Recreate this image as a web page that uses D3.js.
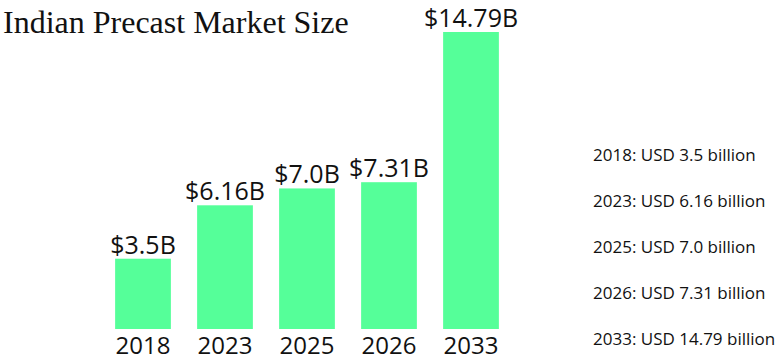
<!DOCTYPE html>
<html>
<head>
<meta charset="utf-8">
<script src="https://cdn.jsdelivr.net/npm/d3@7"></script>
<style>
  body { margin: 0; background: #fff; }
  text { fill: #111; }
</style>
</head>
<body>
<div id="chart"></div>
<script>
var years = ["2018", "2023", "2025", "2026", "2033"];
var values = [3.5, 6.16, 7.0, 7.31, 14.79];
var valueLabels = ["$3.5B", "$6.16B", "$7.0B", "$7.31B", "$14.79B"];
var notes = ["2018: USD 3.5 billion", "2023: USD 6.16 billion", "2025: USD 7.0 billion",
             "2026: USD 7.31 billion", "2033: USD 14.79 billion"];

var width = 778, height = 364;
var svg = d3.select("#chart").append("svg")
    .attr("width", width).attr("height", height);

svg.append("text")
    .attr("x", 3).attr("y", 33)
    .attr("font-family", "Liberation Serif, serif")
    .attr("font-size", 32)
    .text("Indian Precast Market Size");

var x = d3.scaleBand().domain(years).range([102, 512]).paddingInner(0.32).paddingOuter(0.16);
var y = d3.scaleLinear().domain([0, 14.79]).range([329, 32]);

var bars = svg.append("g");
bars.selectAll("rect").data(values).enter().append("rect")
    .attr("x", function(d, i){ return x(years[i]); })
    .attr("y", function(d){ return y(d); })
    .attr("width", x.bandwidth())
    .attr("height", function(d){ return y(0) - y(d); })
    .attr("fill", "#55ff99");

bars.selectAll("text.val").data(valueLabels).enter().append("text")
    .attr("class", "val")
    .attr("x", function(d, i){ return x(years[i]) + x.bandwidth()/2; })
    .attr("y", function(d, i){ return y(values[i]) - 5; })
    .attr("text-anchor", "middle")
    .attr("font-family", "Open Sans, sans-serif")
    .attr("font-size", 25)
    .text(function(d){ return d; });

var xAxis = svg.append("g")
    .attr("transform", "translate(0,329)")
    .call(d3.axisBottom(x).tickSize(0).tickPadding(8));
xAxis.select(".domain").remove();
xAxis.selectAll("text")
    .attr("font-family", "Open Sans, sans-serif")
    .attr("font-size", 24)
    .attr("fill", "#111")
    .attr("dy", "0.71em");

svg.append("g").selectAll("text").data(notes).enter().append("text")
    .attr("x", 593)
    .attr("y", function(d, i){ return 161 + i*46; })
    .attr("font-family", "Open Sans, sans-serif")
    .attr("font-size", 17)
    .text(function(d){ return d; });
</script>
</body>
</html>
